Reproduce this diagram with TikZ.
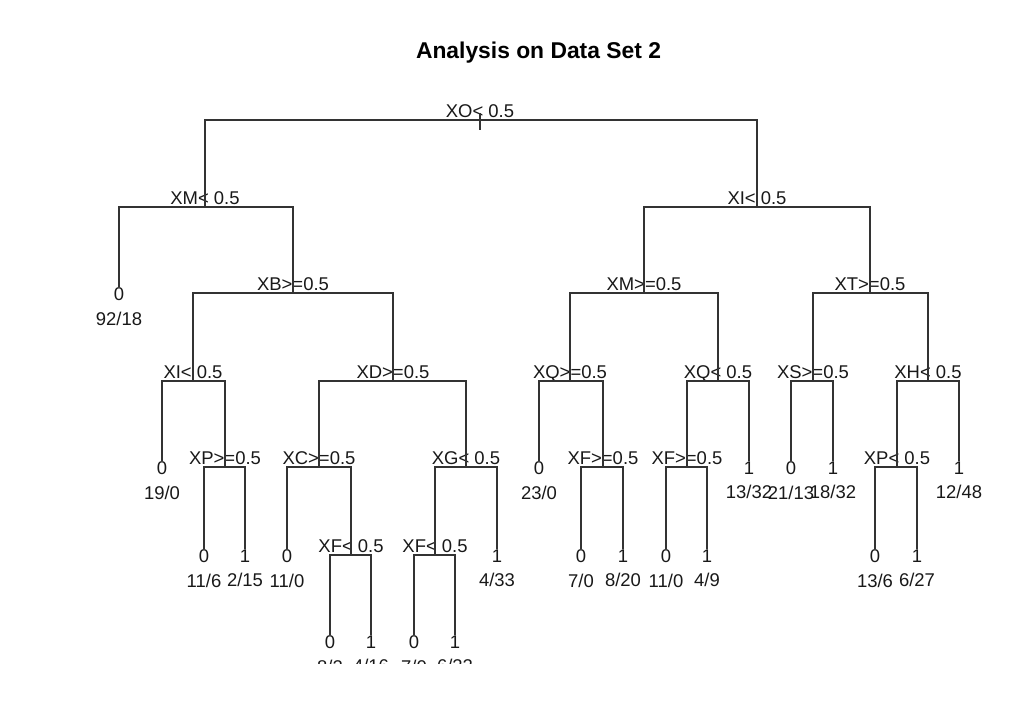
\documentclass[tikz,border=0pt]{standalone}
\usepackage{fontspec}
\setmainfont{Liberation Sans}
\usetikzlibrary{positioning}
\tikzstyle{split} = [inner sep=0pt, text depth=0pt, text=black!90, font=\fontsize{10.5}{12}\selectfont]
\tikzstyle{leaf} = [inner sep=0pt, text=black!90, font=\fontsize{10.5}{12}\selectfont]
\tikzstyle{branch} = [line width=0.6pt, draw=black!80]

\begin{document}
\begin{tikzpicture}[x=0.02cm, y=-0.02cm]
    \useasboundingbox[fill=white] (0,0) rectangle (1031,713);
    \node[font=\bfseries\fontsize{13}{15}\selectfont] (title) at (538.5,53) {Analysis on Data Set 2};

    \begin{scope}
    \clip (0,0) rectangle (1031,663);

    % Splits
    \coordinate (xo) at (480,120);
    \coordinate (xm) at (205,207);
    \coordinate (xi) at (757,207);
    \coordinate (xb) at (293,293);
    \coordinate (xmr) at (644,293);
    \coordinate (xt) at (870,293);
    \coordinate (xil) at (193,381);
    \coordinate (xd) at (393,381);
    \coordinate (xq) at (570,381);
    \coordinate (xqr) at (718,381);
    \coordinate (xs) at (813,381);
    \coordinate (xh) at (928,381);
    \coordinate (xp) at (225,467);
    \coordinate (xc) at (319,467);
    \coordinate (xg) at (466,467);
    \coordinate (xfa) at (603,467);
    \coordinate (xfb) at (687,467);
    \coordinate (xpr) at (897,467);
    \coordinate (xfc) at (351,555);
    \coordinate (xfd) at (435,555);

    \node[split, above=0.04cm of xo] (txo) {XO< 0.5};
    \node[split, above=0.04cm of xm] (txm) {XM< 0.5};
    \node[split, above=0.04cm of xi] (txi) {XI< 0.5};
    \node[split, above=0.04cm of xb] (txb) {XB>=0.5};
    \node[split, above=0.04cm of xmr] (txmr) {XM>=0.5};
    \node[split, above=0.04cm of xt] (txt) {XT>=0.5};
    \node[split, above=0.04cm of xil] (txil) {XI< 0.5};
    \node[split, above=0.04cm of xd] (txd) {XD>=0.5};
    \node[split, above=0.04cm of xq] (txq) {XQ>=0.5};
    \node[split, above=0.04cm of xqr] (txqr) {XQ< 0.5};
    \node[split, above=0.04cm of xs] (txs) {XS>=0.5};
    \node[split, above=0.04cm of xh] (txh) {XH< 0.5};
    \node[split, above=0.04cm of xp] (txp) {XP>=0.5};
    \node[split, above=0.04cm of xc] (txc) {XC>=0.5};
    \node[split, above=0.04cm of xg] (txg) {XG< 0.5};
    \node[split, above=0.04cm of xfa] (txfa) {XF>=0.5};
    \node[split, above=0.04cm of xfb] (txfb) {XF>=0.5};
    \node[split, above=0.04cm of xpr] (txpr) {XP< 0.5};
    \node[split, above=0.04cm of xfc] (txfc) {XF< 0.5};
    \node[split, above=0.04cm of xfd] (txfd) {XF< 0.5};

    % Leaves
    \node[leaf] (l1) at (119,294) {0};
    \node[leaf] (l2) at (162,468) {0};
    \node[leaf] (l3) at (204,556) {0};
    \node[leaf] (l4) at (245,556) {1};
    \node[leaf] (l5) at (287,556) {0};
    \node[leaf] (l6) at (330,642) {0};
    \node[leaf] (l7) at (371,642) {1};
    \node[leaf] (l8) at (414,642) {0};
    \node[leaf] (l9) at (455,642) {1};
    \node[leaf] (l10) at (497,556) {1};
    \node[leaf] (l11) at (539,468) {0};
    \node[leaf] (l12) at (581,556) {0};
    \node[leaf] (l13) at (623,556) {1};
    \node[leaf] (l14) at (666,556) {0};
    \node[leaf] (l15) at (707,556) {1};
    \node[leaf] (l16) at (749,468) {1};
    \node[leaf] (l17) at (791,468) {0};
    \node[leaf] (l18) at (833,468) {1};
    \node[leaf] (l19) at (875,556) {0};
    \node[leaf] (l20) at (917,556) {1};
    \node[leaf] (l21) at (959,468) {1};

    \node[leaf, below=0.21cm of l1] (c1) {92/18};
    \node[leaf, below=0.21cm of l2] (c2) {19/0};
    \node[leaf, below=0.21cm of l3] (c3) {11/6};
    \node[leaf, below=0.21cm of l4] (c4) {2/15};
    \node[leaf, below=0.21cm of l5] (c5) {11/0};
    \node[leaf, below=0.21cm of l6] (c6) {8/2};
    \node[leaf, below=0.21cm of l7] (c7) {4/16};
    \node[leaf, below=0.21cm of l8] (c8) {7/0};
    \node[leaf, below=0.21cm of l9] (c9) {6/22};
    \node[leaf, below=0.21cm of l10] (c10) {4/33};
    \node[leaf, below=0.21cm of l11] (c11) {23/0};
    \node[leaf, below=0.21cm of l12] (c12) {7/0};
    \node[leaf, below=0.21cm of l13] (c13) {8/20};
    \node[leaf, below=0.21cm of l14] (c14) {11/0};
    \node[leaf, below=0.21cm of l15] (c15) {4/9};
    \node[leaf, below=0.21cm of l16] (c16) {13/32};
    \node[leaf, below=0.21cm of l17] (c17) {21/13};
    \node[leaf, below=0.21cm of l18] (c18) {18/32};
    \node[leaf, below=0.21cm of l19] (c19) {13/6};
    \node[leaf, below=0.21cm of l20] (c20) {6/27};
    \node[leaf, below=0.21cm of l21] (c21) {12/48};

    % Root tick
    \coordinate (rtop) at (480,113);
    \coordinate (rbot) at (480,130);
    \draw[branch] (rtop) -- (rbot);

    % Branches, left side
    \draw[branch] (xo) -| (xm);
    \draw[branch] (xm) -| (l1.north);
    \draw[branch] (xm) -| (xb);
    \draw[branch] (xb) -| (xil);
    \draw[branch] (xb) -| (xd);
    \draw[branch] (xil) -| (l2.north);
    \draw[branch] (xil) -| (xp);
    \draw[branch] (xp) -| (l3.north);
    \draw[branch] (xp) -| (l4.north);
    \draw[branch] (xd) -| (xc);
    \draw[branch] (xd) -| (xg);
    \draw[branch] (xc) -| (l5.north);
    \draw[branch] (xc) -| (xfc);
    \draw[branch] (xfc) -| (l6.north);
    \draw[branch] (xfc) -| (l7.north);
    \draw[branch] (xg) -| (xfd);
    \draw[branch] (xg) -| (l10.north);
    \draw[branch] (xfd) -| (l8.north);
    \draw[branch] (xfd) -| (l9.north);

    % Branches, right side
    \draw[branch] (xo) -| (xi);
    \draw[branch] (xi) -| (xmr);
    \draw[branch] (xi) -| (xt);
    \draw[branch] (xmr) -| (xq);
    \draw[branch] (xmr) -| (xqr);
    \draw[branch] (xq) -| (l11.north);
    \draw[branch] (xq) -| (xfa);
    \draw[branch] (xfa) -| (l12.north);
    \draw[branch] (xfa) -| (l13.north);
    \draw[branch] (xqr) -| (xfb);
    \draw[branch] (xqr) -| (l16.north);
    \draw[branch] (xfb) -| (l14.north);
    \draw[branch] (xfb) -| (l15.north);
    \draw[branch] (xt) -| (xs);
    \draw[branch] (xt) -| (xh);
    \draw[branch] (xs) -| (l17.north);
    \draw[branch] (xs) -| (l18.north);
    \draw[branch] (xh) -| (xpr);
    \draw[branch] (xh) -| (l21.north);
    \draw[branch] (xpr) -| (l19.north);
    \draw[branch] (xpr) -| (l20.north);
    \end{scope}
\end{tikzpicture}
\end{document}
